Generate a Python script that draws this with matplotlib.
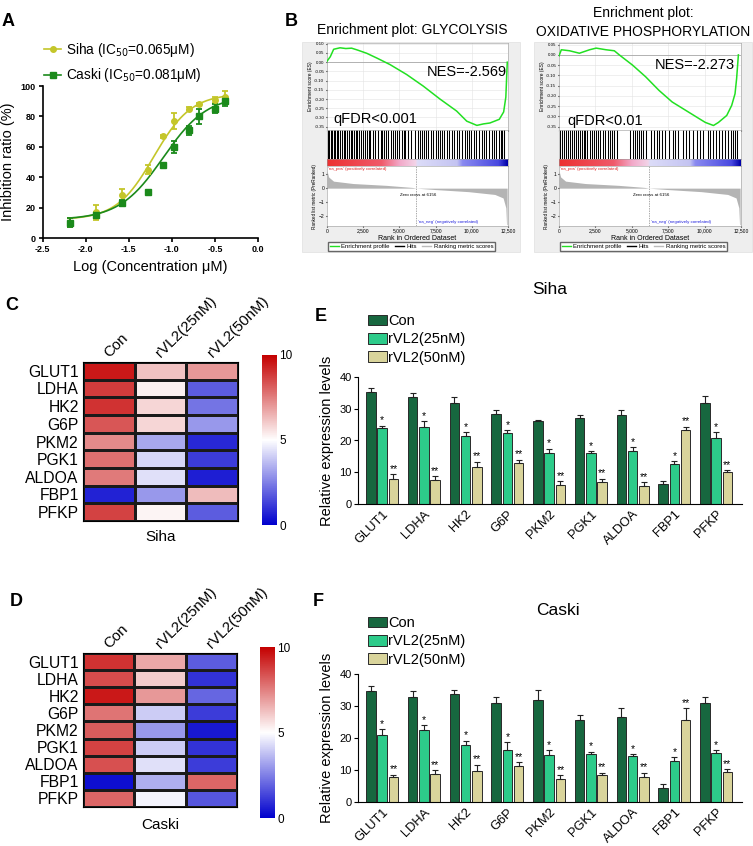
import numpy as np
import matplotlib
matplotlib.use("Agg")
import matplotlib.pyplot as plt
from matplotlib.colors import LinearSegmentedColormap
from matplotlib.lines import Line2D
from matplotlib.patches import Patch, Rectangle

# ---------------- data ----------------
# Panel A
conc_log = [-2.18, -1.88, -1.58, -1.28, -1.10, -0.98, -0.80, -0.68, -0.50, -0.38]
siha_inh = [10, 17, 28, 45, 67, 77, 85, 88, 91, 93]
siha_err = [3, 5, 4, 3, 1, 5, 1, 1, 2, 4]
caski_inh = [10, 15, 23, 30, 48, 60, 71, 80, 85, 90]
caski_err = [3, 2, 2, 1, 1, 4, 3, 5, 3, 3]
siha_fit = dict(bottom=12, top=95, log_ic50=-1.21, hill=2.0)
caski_fit = dict(bottom=12, top=94, log_ic50=-1.10, hill=1.7)

# Panel B (GSEA)
gly_es_rank = [0, 230, 460, 900, 1300, 1700, 2100, 2750, 3450, 4350, 5500, 6650, 7800, 8950, 9650,
               10350, 10800, 11250, 11900, 12200, 12350, 12450]
gly_es = [0.005, 0.03, 0.07, 0.078, 0.074, 0.076, 0.066, 0.048, 0.022, -0.013, -0.067, -0.13, -0.2,
          -0.265, -0.32, -0.343, -0.335, -0.33, -0.31, -0.27, -0.19, 0.0]
gly_hits = [40, 150, 260, 330, 450, 560, 700, 790, 900, 1010, 1150, 1260, 1380, 1500, 1640, 1720, 1850,
            1990, 2100, 2230, 2350, 2480, 2600, 2750, 2880, 3000, 3150, 3320, 3500, 3700, 3820, 3950,
            4080, 4200, 4450, 4560, 4700, 4820, 5000, 5150, 5300, 5420, 5600, 5800, 6100, 6300, 6450,
            6580, 6700, 6850, 7000, 7150, 7300, 7500, 7650, 7800, 7950, 8100, 8300, 8450, 8600, 8800,
            8950, 9150, 9300, 9500, 9650, 9800, 9950, 10150, 10300, 10500, 10700, 10850, 11000, 11200,
            11400, 11550, 11700, 11850, 12000, 12100, 12200, 12250]
ox_es_rank = [0, 160, 730, 1400, 2100, 2550, 3230, 3800, 4140, 5050, 5950, 6860, 7770, 8680, 9590,
              10050, 10610, 10950, 11520, 11860, 12090, 12200, 12320]
ox_es = [-0.005, 0.025, 0.02, 0.008, 0.025, 0.033, 0.025, 0.02, 0.0, -0.05, -0.107, -0.173, -0.23,
         -0.27, -0.31, -0.33, -0.345, -0.33, -0.296, -0.247, -0.19, -0.115, 0.0]
ox_hits = [60, 200, 330, 480, 620, 760, 880, 1000, 1150, 1300, 1420, 1550, 1700, 1820, 1950, 2100,
           2250, 2400, 2550, 2700, 2850, 3000, 3150, 3350, 3500, 3650, 3800, 4000, 4900, 5050, 5200,
           5350, 5500, 5650, 5800, 5950, 6300, 6500, 6700, 6900, 7100, 7300, 7550, 7800, 8000, 8200,
           8500, 8700, 8950, 9200, 9500, 9700, 9900, 10200, 10400, 10600, 10800, 11000, 11200, 11400,
           11600, 11800, 11950, 12100, 12200]
metric_rank = [0, 110, 450, 1800, 4090, 5900, 6156, 7480, 9770, 11590, 12160, 12350, 12400, 12440]
metric_val = [1.25, 0.8, 0.5, 0.33, 0.2, 0.05, 0.0, -0.1, -0.25, -0.45, -0.7, -1.4, -2.6, -2.6]
zero_cross = 6156

# Panels C/D (heatmaps)
genes = ["GLUT1", "LDHA", "HK2", "G6P", "PKM2", "PGK1", "ALDOA", "FBP1", "PFKP"]
conds = ["Con", "rVL2(25nM)", "rVL2(50nM)"]
siha_heat_con = [9.5, 8.8, 9.0, 8.3, 7.3, 7.8, 7.6, 0.7, 8.7]
siha_heat_25 = [6.2, 5.3, 5.8, 5.8, 3.3, 4.2, 4.4, 3.0, 5.2]
siha_heat_50 = [7.0, 1.8, 2.3, 3.0, 0.8, 1.2, 0.6, 6.3, 1.8]
caski_heat_con = [9.0, 8.5, 9.5, 7.7, 8.2, 8.7, 8.4, 0.3, 8.0]
caski_heat_25 = [6.7, 6.0, 7.0, 4.0, 3.0, 4.0, 4.4, 3.4, 4.8]
caski_heat_50 = [1.8, 1.0, 2.0, 1.2, 0.5, 1.0, 1.2, 8.0, 1.7]

# Panels E/F (bars)
siha_con = [35.3, 33.7, 31.7, 28.3, 26.0, 27.0, 28.0, 6.3, 31.7]
siha_con_err = [1.2, 1.2, 2.0, 1.4, 0.5, 1.0, 1.7, 0.9, 2.3]
siha_25 = [24.0, 24.4, 21.4, 22.4, 16.0, 16.0, 16.6, 12.6, 20.8]
siha_25_err = [0.6, 1.6, 1.3, 0.8, 1.4, 0.6, 1.3, 0.8, 1.8]
siha_50 = [8.0, 7.6, 11.6, 13.0, 6.0, 7.0, 5.7, 23.3, 10.0]
siha_50_err = [1.4, 1.2, 1.7, 1.0, 1.2, 1.0, 1.2, 1.0, 0.6]
caski_con = [34.6, 32.8, 33.9, 30.9, 31.8, 25.6, 26.6, 4.5, 30.8]
caski_con_err = [1.5, 1.8, 1.2, 1.9, 3.1, 1.6, 2.7, 1.2, 2.0]
caski_25 = [21.0, 22.4, 17.9, 16.1, 14.6, 14.9, 14.5, 12.8, 15.4]
caski_25_err = [1.7, 1.6, 1.2, 2.6, 1.6, 0.8, 0.4, 1.2, 0.7]
caski_50 = [7.9, 8.7, 9.8, 11.3, 7.1, 8.3, 7.9, 25.5, 9.4]
caski_50_err = [0.6, 1.3, 1.9, 1.2, 1.3, 0.8, 1.2, 3.9, 0.9]

# ---------------- figure ----------------
W, H = 753, 846
fig = plt.figure(figsize=(W / 100, H / 100), dpi=100)
plt.rcParams["font.family"] = ["Liberation Sans", "DejaVu Sans"]


def rect(l, t, r, b):
    return [l / W, 1 - b / H, (r - l) / W, (b - t) / H]


def letter(x, y, s):
    fig.text(x / W, 1 - y / H, s, fontsize=13, fontweight="bold", ha="left", va="top")


# ---------------- Panel A ----------------
SIHA_C = "#c4c62a"
CASKI_C = "#1b8a1b"
axA = fig.add_axes(rect(42.7, 86, 258, 238))


def hill(x, p):
    return p["bottom"] + (p["top"] - p["bottom"]) / (1 + 10 ** ((p["log_ic50"] - x) * p["hill"]))


xs = np.linspace(-2.2, -0.37, 200)
axA.plot(xs, hill(xs, siha_fit), color=SIHA_C, lw=1.2)
axA.plot(xs, hill(xs, caski_fit), color=CASKI_C, lw=1.2)
axA.errorbar(conc_log, siha_inh, yerr=siha_err, fmt="o", ms=4, color=SIHA_C, capsize=2.5,
             elinewidth=1.3, capthick=1.3)
axA.errorbar(conc_log, caski_inh, yerr=caski_err, fmt="s", ms=4, color=CASKI_C, capsize=2.5,
             elinewidth=1.3, capthick=1.3)
axA.set_xlim(-2.5, 0.0)
axA.set_ylim(0, 100)
axA.set_xticks([-2.5, -2.0, -1.5, -1.0, -0.5, 0.0])
axA.set_xticklabels(["-2.5", "-2.0", "-1.5", "-1.0", "-0.5", "0.0"])
axA.set_yticks([0, 20, 40, 60, 80, 100])
for s in ["top", "right"]:
    axA.spines[s].set_visible(False)
for s in ["left", "bottom"]:
    axA.spines[s].set_linewidth(1.2)
axA.tick_params(labelsize=6.5, width=1.2, length=3, pad=2)
for t in axA.get_xticklabels() + axA.get_yticklabels():
    t.set_fontweight("bold")
axA.set_xlabel("Log (Concentration μM)", fontsize=10.5, labelpad=4)
axA.set_ylabel("Inhibition ratio (%)", fontsize=10.5, labelpad=4)
legA = axA.legend(
    [Line2D([0], [0], color=SIHA_C, marker="o", ms=4, lw=1.2),
     Line2D([0], [0], color=CASKI_C, marker="s", ms=4, lw=1.2)],
    ["Siha (IC$_{50}$=0.065μM)", "Caski (IC$_{50}$=0.081μM)"],
    loc="upper left", bbox_to_anchor=(44 / W, 1 - 41 / H), bbox_transform=fig.transFigure,
    frameon=False, fontsize=9.8, handlelength=1.25, handletextpad=0.35, labelspacing=0.55,
    borderpad=0, borderaxespad=0)
letter(2, 13, "A")

# ---------------- Panel B ----------------
gsea_cmap = LinearSegmentedColormap.from_list(
    "gsea", [(0, "#ec3030"), (0.3, "#f05a6a"), (0.4, "#f2a8c8"), (0.49, "#f2d4e8"),
             (0.5, "#dcdcf8"), (0.72, "#c4c4f2"), (0.75, "#8a8af0"), (0.95, "#4848e0"),
             (1, "#0000a8")])


def draw_gsea(l, r, es_rank, es, es_ylim, es_ticks, hits, nes, qfdr, nes_pos, q_pos):
    bg_l = l - 25
    fig.patches.append(Rectangle((bg_l / W, 1 - 252 / H), 218 / W, 210 / H,
                                 transform=fig.transFigure, facecolor="#eeeeee",
                                 edgecolor="#e0e0e0", lw=0.5, zorder=-10))
    ax1 = fig.add_axes(rect(l, 43, r, 130))
    ax2 = fig.add_axes(rect(l, 130, r, 159))
    ax3 = fig.add_axes(rect(l, 159, r, 166))
    ax4 = fig.add_axes(rect(l, 166, r, 226))
    for ax in (ax1, ax2, ax3, ax4):
        ax.set_xlim(0, 12500)
        for s in ax.spines.values():
            s.set_linewidth(0.4)
            s.set_color("#999999")
    # ES
    ax1.plot(es_rank, es, color="#22e022", lw=1.1, zorder=3)
    ax1.axhline(0, color="#999999", lw=0.5)
    ax1.set_ylim(*es_ylim)
    ax1.set_yticks(es_ticks)
    ax1.set_yticklabels(["%.2f" % v for v in es_ticks])
    ax1.set_xticks([0, 2500, 5000, 7500, 10000, 12500])
    ax1.grid(True, color="#e4e4e4", lw=0.4)
    ax1.tick_params(labelsize=3.2, length=1, pad=1, labelbottom=False)
    ax1.set_ylabel("Enrichment score (ES)", fontsize=3.5, labelpad=1)
    ax1.text(nes_pos[0], nes_pos[1], nes, transform=ax1.transAxes, ha="right", va="center",
             fontsize=10.5)
    ax1.text(q_pos[0], q_pos[1], qfdr, transform=ax1.transAxes, ha="left", va="center",
             fontsize=10.5)
    # hits
    ax2.vlines(hits, 0, 1, color="black", lw=0.75)
    ax2.set_ylim(0, 1)
    ax2.set_xticks([])
    ax2.set_yticks([])
    # colour bar
    ax3.imshow(np.linspace(0, 1, 256)[None, :], aspect="auto", cmap=gsea_cmap,
               extent=[0, 12450, 0, 1])
    ax3.set_xlim(0, 12500)
    ax3.set_xticks([])
    ax3.set_yticks([])
    # ranked list
    ax4.fill_between(metric_rank, metric_val, 0, color="#b4b4b4", lw=0)
    ax4.axvline(zero_cross, color="#888888", lw=0.5, ls=(0, (2, 1.5)))
    ax4.set_ylim(-2.7, 1.58)
    ax4.set_yticks([1, 0, -1, -2])
    ax4.set_xticks([0, 2500, 5000, 7500, 10000, 12500])
    ax4.set_xticklabels(["0", "2,500", "5,000", "7,500", "10,000", "12,500"])
    ax4.tick_params(labelsize=3.6, length=1, pad=1)
    ax4.set_xlabel("Rank in Ordered Dataset", fontsize=5, labelpad=1)
    ax4.set_ylabel("Ranked list metric (PreRanked)", fontsize=3.3, labelpad=1)
    ax4.text(6300, -0.5, "Zero cross at 6156", fontsize=3.2, ha="center", va="center")
    ax4.text(100, 1.35, "'na_pos' (positively correlated)", fontsize=3.2, color="#dd2222",
             ha="left", va="center")
    ax4.text(6300, -2.4, "'na_neg' (negatively correlated)", fontsize=3.2, color="#2222dd",
             ha="left", va="center")
    fig.legend([Line2D([0], [0], color="#22e022", lw=1), Line2D([0], [0], color="black", lw=1),
                Line2D([0], [0], color="#bbbbbb", lw=1)],
               ["Enrichment profile", "Hits", "Ranking metric scores"],
               loc="upper left", bbox_to_anchor=((l + 1) / W, 1 - 242 / H), ncol=3,
               fontsize=4.3, frameon=True, fancybox=False, edgecolor="#666666", framealpha=1,
               borderpad=0.3, handlelength=1.5, columnspacing=0.9, handletextpad=0.4,
               borderaxespad=0)


draw_gsea(327, 508, gly_es_rank, gly_es, (-0.368, 0.104),
          [0.10, 0.05, 0.00, -0.05, -0.10, -0.15, -0.20, -0.25, -0.30, -0.35],
          gly_hits, "NES=-2.569", "qFDR<0.001", (0.995, 0.667), (0.033, 0.126))
draw_gsea(559, 741, ox_es_rank, ox_es, (-0.367, 0.058),
          [0.05, 0.00, -0.05, -0.10, -0.15, -0.20, -0.25, -0.30, -0.35],
          ox_hits, "NES=-2.273", "qFDR<0.01", (0.967, 0.744), (0.044, 0.105))
fig.text(412 / W, 1 - 30 / H, "Enrichment plot: GLYCOLYSIS", fontsize=10, ha="center", va="center")
fig.text(643 / W, 1 - 13 / H, "Enrichment plot:", fontsize=10, ha="center", va="center")
fig.text(643 / W, 1 - 32 / H, "OXIDATIVE PHOSPHORYLATION", fontsize=10, ha="center", va="center")
letter(285, 13, "B")

# ---------------- Panels C / D ----------------
heat_cmap = LinearSegmentedColormap.from_list("bwr_r", ["#0000CD", "#FFFFFF", "#C40000"])


def draw_heat(hrect, crect, cols, label, label_y):
    ax = fig.add_axes(rect(*hrect))
    cax = fig.add_axes(rect(*crect))
    vals = np.array(cols).T
    mesh = ax.pcolormesh(vals, cmap=heat_cmap, vmin=0, vmax=10, edgecolors="#1a1a1a", linewidth=0.8)
    ax.set_xlim(0, 3)
    ax.set_ylim(9, 0)
    ax.set_yticks(np.arange(9) + 0.5)
    ax.set_yticklabels(genes)
    ax.set_xticks([])
    ax.tick_params(length=0, labelsize=11.3, pad=3)
    for s in ax.spines.values():
        s.set_linewidth(0.8)
    for i, c in enumerate(conds):
        ax.text(i + 0.55, -0.12, c, rotation=45, rotation_mode="anchor", ha="left", va="bottom",
                fontsize=10.8)
    cb = fig.colorbar(mesh, cax=cax)
    cb.outline.set_visible(False)
    cax.set_yticks([0, 5, 10])
    cax.tick_params(length=0, labelsize=8.5, pad=1.5)
    fig.text((hrect[0] + hrect[2]) / 2 / W, 1 - label_y / H, label, fontsize=11, ha="center",
             va="center")


draw_heat((83, 362, 238, 521), (262, 355, 277, 525), [siha_heat_con, siha_heat_25, siha_heat_50],
          "Siha", 537)
draw_heat((83, 653, 237, 807), (260, 647, 275, 818), [caski_heat_con, caski_heat_25, caski_heat_50],
          "Caski", 825)
letter(5, 297, "C")
letter(10, 593, "D")

# ---------------- Panels E / F ----------------
BAR_C = ["#17673f", "#2dcb8a", "#d9d49b"]
bar_labels = ["Con", "rVL2(25nM)", "rVL2(50nM)"]


def draw_bars(top, bottom, series, errs, title, title_y, leg_y):
    ax = fig.add_axes(rect(358, top, 742, bottom))
    x = np.arange(len(genes))
    offs = [-0.27, 0.0, 0.27]
    for k in range(3):
        ax.bar(x + offs[k], series[k], 0.23, color=BAR_C[k], edgecolor="#2a2a2a", lw=0.7,
               yerr=(np.zeros(len(genes)), errs[k]),
               error_kw=dict(capsize=2.3, elinewidth=0.8, capthick=0.8, ecolor="#222222"))
        if k > 0:
            mark = "*" if k == 1 else "**"
            for xi, v, e in zip(x, series[k], errs[k]):
                ax.text(xi + offs[k], v + e + 0.1, mark, ha="center", va="bottom", fontsize=7.5)
    ax.set_xlim(-0.58, 8.62)
    ax.set_ylim(0, 40)
    ax.set_yticks([0, 10, 20, 30, 40])
    ax.set_xticks(x)
    ax.set_xticklabels(genes, rotation=45, ha="right", rotation_mode="anchor", fontsize=9.3)
    ax.tick_params(axis="y", labelsize=8, length=3, pad=1.5)
    ax.tick_params(axis="x", length=0, pad=3)
    for s in ["top", "right"]:
        ax.spines[s].set_visible(False)
    ax.set_ylabel("Relative expression levels", fontsize=10.5, labelpad=4)
    ax.legend([Patch(facecolor=c, edgecolor="#2a2a2a", lw=0.7) for c in BAR_C], bar_labels,
              loc="upper left", bbox_to_anchor=(368 / W, 1 - leg_y / H), bbox_transform=fig.transFigure,
              frameon=False, fontsize=10.5, handlelength=1.3, handleheight=0.75, handletextpad=0.1,
              labelspacing=0.3, borderpad=0, borderaxespad=0)
    fig.text(title[1] / W, 1 - title_y / H, title[0], fontsize=12.5, ha="center", va="center")


draw_bars(377, 504, [siha_con, siha_25, siha_50], [siha_con_err, siha_25_err, siha_50_err],
          ("Siha", 550), 290, 314)
draw_bars(674, 802, [caski_con, caski_25, caski_50], [caski_con_err, caski_25_err, caski_50_err],
          ("Caski", 558), 610, 616)
letter(315, 308, "E")
letter(313, 593, "F")

fig.savefig("out.png", dpi=100)
